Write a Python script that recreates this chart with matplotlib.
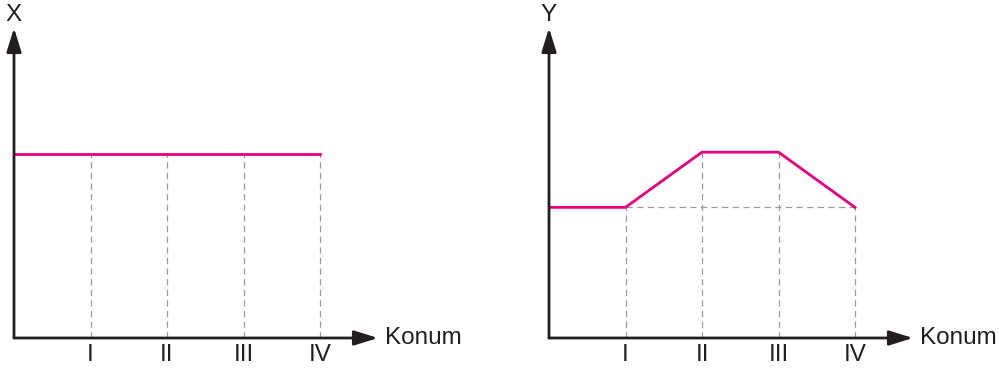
import matplotlib.pyplot as plt
import numpy as np

plt.rcParams['font.family'] = ['Liberation Sans', 'DejaVu Sans']

# data: position index (0 = origin, 1..4 = I..IV)
konum = [0, 1, 2, 3, 4]
tick_labels = ["I", "II", "III", "IV"]
x_vals = [2.0, 2.0, 2.0, 2.0, 2.0]
y_vals = [1.42, 1.42, 2.02, 2.02, 1.42]

W, H = 999, 370
fig = plt.figure(figsize=(W / 100, H / 100), dpi=100)

pink = "#e6007e"
dash_col = "#9a9a9a"
ink = "#231f20"
fs = 17.5
px_x = 76.5   # pixels per position unit
px_y = 92.0   # pixels per value unit


def panel(left_px, vals, ylab):
    x0, y0 = left_px, 338
    wpx, hpx = 364, 310
    ax = fig.add_axes([x0 / W, (H - y0) / H, wpx / W, hpx / H])
    ax.set_xlim(0, wpx / px_x)
    ax.set_ylim(0, hpx / px_y)
    for s in ax.spines.values():
        s.set_visible(False)
    ax.set_yticks([])
    ax.set_xticks(konum[1:])
    ax.set_xticklabels(tick_labels, fontsize=fs, color=ink)
    ax.tick_params(axis="x", length=0, pad=4)

    # dashed guide lines
    for k, v in zip(konum[1:], vals[1:]):
        ax.plot([k, k], [0, v], color=dash_col, lw=0.9, ls=(0, (5, 3.5)), zorder=1)
    if vals[1] != max(vals):
        ax.plot([konum[1], konum[-1]], [vals[1], vals[1]], color=dash_col,
                lw=0.9, ls=(0, (5, 3.5)), zorder=1)

    ax.plot(konum, vals, color=pink, lw=2.0, solid_joinstyle="miter", zorder=3)

    # axes with arrows
    arr = dict(arrowstyle="-|>,head_length=0.9,head_width=0.28", color=ink,
               lw=2.0, shrinkA=0, shrinkB=0, mutation_scale=16)
    ax.annotate("", xy=(1, 0), xytext=(0, 0), xycoords="axes fraction",
                arrowprops=arr, annotation_clip=False)
    ax.annotate("", xy=(0, 1), xytext=(0, 0), xycoords="axes fraction",
                arrowprops=arr, annotation_clip=False)
    ax.text(1.019, 0, "Konum", transform=ax.transAxes, fontsize=fs,
            va="center", ha="left", color=ink)
    ax.text(0, 1.008, ylab, transform=ax.transAxes, fontsize=fs,
            va="bottom", ha="center", color=ink)
    return ax


panel(14, x_vals, "X")
panel(549, y_vals, "Y")

fig.savefig("out.png", dpi=100)
